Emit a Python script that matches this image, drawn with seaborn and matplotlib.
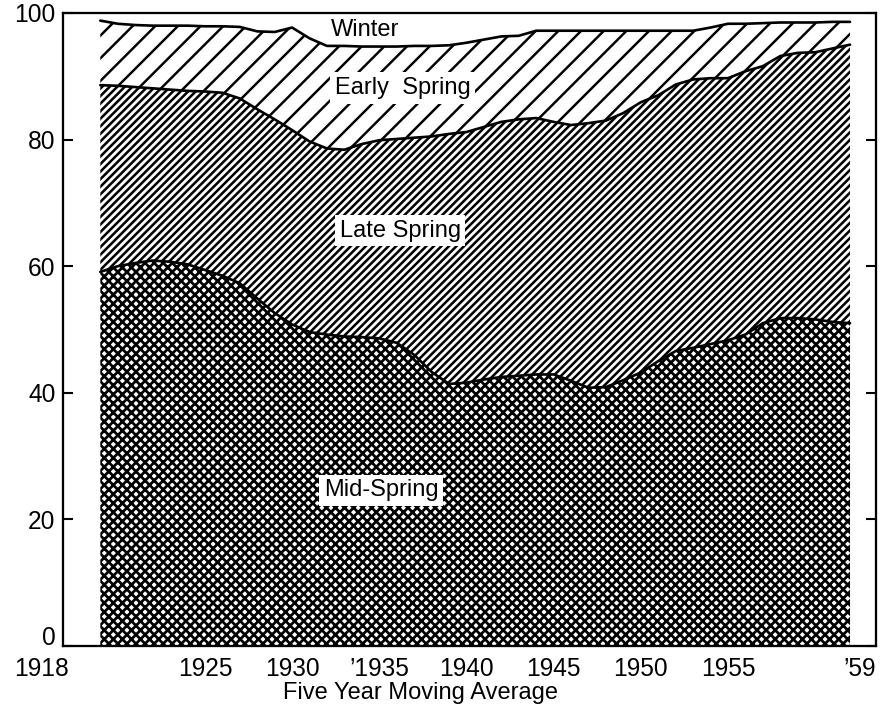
import numpy as np
import pandas as pd
import matplotlib
matplotlib.use("Agg")
import matplotlib.pyplot as plt
import seaborn as sns

# ---- data (percent of total, five-year moving average) ----
years = list(range(1919, 1963))
mid_spring = [59.1, 60.0, 60.5, 60.9, 60.7, 60.3, 59.4, 58.5, 57.3, 54.9,
              52.6, 50.8, 49.6, 49.2, 48.9, 48.8, 48.6, 47.9, 46.0, 43.3,
              41.4, 41.6, 42.1, 42.5, 42.7, 42.9, 42.9, 41.9, 40.8, 40.9,
              42.0, 43.2, 45.0, 46.6, 47.1, 47.7, 48.3, 49.2, 51.0, 51.8,
              51.8, 51.6, 51.2, 51.0]
late_spring = [29.5, 28.5, 27.8, 27.2, 27.2, 27.4, 28.2, 28.9, 29.2, 29.9,
               30.6, 30.7, 30.1, 29.4, 29.5, 30.5, 31.3, 32.2, 34.3, 37.2,
               39.5, 39.6, 39.9, 40.3, 40.5, 40.5, 39.9, 40.4, 41.8, 42.1,
               42.2, 42.7, 42.0, 42.1, 42.4, 42.0, 41.4, 41.6, 40.6, 41.4,
               41.9, 42.2, 43.2, 44.0]
early_spring = [10.2, 9.8, 9.8, 9.9, 10.1, 10.3, 10.3, 10.5, 11.3, 12.3,
                13.8, 16.2, 16.3, 16.2, 16.4, 15.4, 14.8, 14.6, 14.5, 14.3,
                14.0, 14.1, 13.8, 13.5, 13.2, 13.8, 14.4, 14.9, 14.6, 14.2,
                13.0, 11.3, 10.2, 8.5, 7.7, 8.0, 8.6, 7.5, 6.8, 5.3,
                4.8, 4.7, 4.2, 3.6]
winter = [1.2, 1.7, 1.9, 2.0, 2.0, 2.0, 2.1, 2.1, 2.2, 2.9,
          3.0, 2.3, 4.0, 5.2, 5.2, 5.3, 5.3, 5.3, 5.2, 5.2,
          5.1, 4.7, 4.2, 3.7, 3.6, 2.8, 2.8, 2.8, 2.8, 2.8,
          2.8, 2.8, 2.8, 2.8, 2.8, 2.3, 1.7, 1.65, 1.6, 1.55,
          1.5, 1.5, 1.45, 1.4]

xtick_years = [1925, 1930, 1935, 1940, 1945, 1950, 1955]
xtick_labels = ["1925", "1930", "\u20191935", "1940", "1945", "1950", "1955"]
ytick_values = [0, 20, 40, 60, 80, 100]

df = pd.DataFrame({"year": years, "Mid-Spring": mid_spring,
                   "Late Spring": late_spring, "Early Spring": early_spring,
                   "Winter": winter})
df["c1"] = df["Mid-Spring"]
df["c2"] = df["c1"] + df["Late Spring"]
df["c3"] = df["c2"] + df["Early Spring"]
df["c4"] = df["c3"] + df["Winter"]

sns.set_theme(style="ticks")
plt.rcParams["font.family"] = ["Liberation Sans", "DejaVu Sans"]
plt.rcParams["text.color"] = "black"

DPI = 136
fig, ax = plt.subplots(figsize=(881 / DPI, 706 / DPI), dpi=DPI)
fig.subplots_adjust(left=63 / 881, right=876 / 881, bottom=1 - 646 / 706, top=1 - 13 / 706)

# hatched stacked areas
plt.rcParams["hatch.linewidth"] = 1.45
ax.fill_between(df["year"], 0, df["c1"], facecolor="white", edgecolor="black",
                hatch="xxxxx", linewidth=0)
plt.rcParams["hatch.linewidth"] = 1.35
ax.fill_between(df["year"], df["c1"], df["c2"], facecolor="white", edgecolor="black",
                hatch="//////", linewidth=0)
plt.rcParams["hatch.linewidth"] = 1.3
ax.fill_between(df["year"], df["c2"], df["c3"], facecolor="white", edgecolor="black",
                hatch="//", linewidth=0)
ax.fill_between(df["year"], df["c3"], df["c4"], facecolor="white", linewidth=0)

# boundary lines
for col in ["c1", "c2", "c3"]:
    sns.lineplot(data=df, x="year", y=col, color="black", linewidth=1.4, ax=ax)

ax.set_xlim(1916.86, 1963.49)
ax.set_ylim(0, 100)
ax.set_yticks(ytick_values)
ylabels = [str(v) for v in ytick_values]
ax.set_yticklabels([""] + ylabels[1:])
ax.set_xticks(xtick_years)
ax.set_xticklabels(xtick_labels)
ax.tick_params(axis="y", direction="in", length=5.5, width=1.1, right=True,
               labelsize=13, pad=4, colors="black")
ax.tick_params(axis="x", length=0, labelsize=13, pad=6, colors="black")
ax.set_ylabel("")
ax.set_xlabel("Five Year Moving Average", fontsize=12.5, color="black")
ax.xaxis.set_label_coords(0.44, -0.057)
for s in ax.spines.values():
    s.set_visible(True)
    s.set_color("black")
    s.set_linewidth(1.2)

# zero label, lifted slightly as in the original
ax.annotate(ylabels[0], xy=(0, ytick_values[0]), xycoords=("axes fraction", "data"),
            xytext=(-4, 4), textcoords="offset points", ha="right", va="center",
            fontsize=13)

xt = ax.get_xaxis_transform()
ax.text(1915.65, -0.0178, "1918", transform=xt, ha="center", va="top", fontsize=13)
ax.text(1962.57, -0.0178, "\u201959", transform=xt, ha="center", va="top", fontsize=13)

box = dict(facecolor="white", edgecolor="none", pad=2.5)
ax.text(1934.2, 97.3, "Winter", ha="center", va="center", fontsize=12.5)
ax.text(1936.35, 88.15, "Early  Spring", ha="center", va="center", fontsize=12.5, bbox=box)
ax.text(1936.2, 65.6, "Late Spring", ha="center", va="center", fontsize=12.5, bbox=box)
ax.text(1935.1, 24.6, "Mid-Spring", ha="center", va="center", fontsize=12.5, bbox=box)

fig.savefig("out.png", dpi=DPI)
